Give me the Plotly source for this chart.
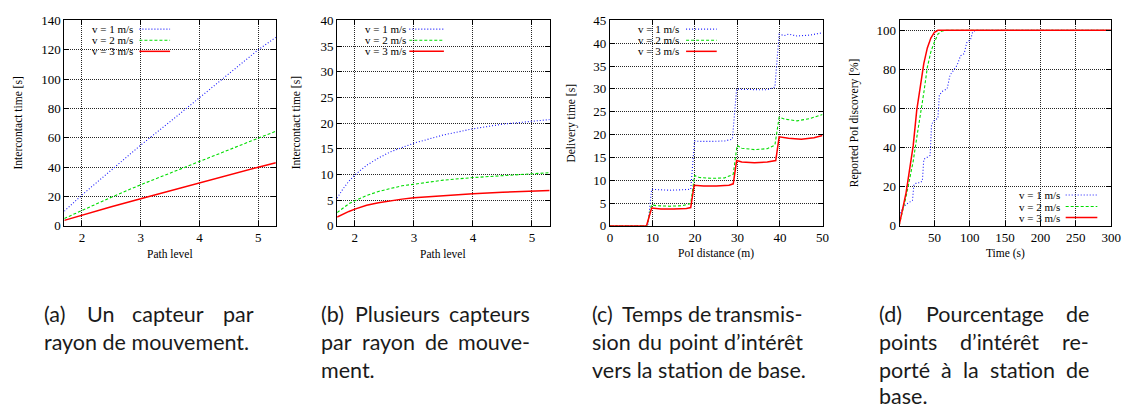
import plotly.graph_objects as go

W, H = 1135, 416

# ---------------- data ----------------
# (a) one sensor per movement radius
a_x = [1.7, 2.0, 2.5, 3.0, 3.5, 4.0, 4.5, 5.0, 5.3]
a_v1 = [10.0, 21.0, 38.0, 55.0, 71.0, 87.5, 104.0, 120.0, 128.5]
a_v2 = [5.0, 10.5, 19.5, 28.0, 36.0, 44.0, 52.0, 60.0, 64.5]
a_v3 = [3.7, 7.3, 13.0, 18.5, 24.0, 29.3, 34.7, 40.0, 43.0]

# (b) several sensors per movement radius
b_x = [1.7, 1.8, 1.9, 2.0, 2.2, 2.4, 2.6, 2.8, 3.0, 3.5, 4.0, 4.5, 5.0, 5.3]
b_v1 = [5.4, 7.2, 8.7, 9.9, 11.8, 13.2, 14.4, 15.3, 16.1, 17.7, 18.9, 19.8, 20.4, 20.7]
b_v2 = [2.6, 3.5, 4.3, 4.9, 5.9, 6.7, 7.3, 7.8, 8.1, 8.9, 9.4, 9.8, 10.2, 10.35]
b_v3 = [1.7, 2.3, 2.8, 3.25, 4.0, 4.5, 4.9, 5.2, 5.45, 5.9, 6.25, 6.55, 6.75, 6.9]

# (c) delivery time vs PoI distance
c_x_v1 = [0, 8.9, 9.8, 11, 14, 17, 19, 19.9, 21, 24, 27, 28.8, 29.8, 31, 34, 37, 38.8, 39.8, 41, 42, 44, 47, 50]
c_v1 = [0, 0, 8.0, 7.9, 7.8, 7.9, 8.0, 18.6, 18.5, 18.5, 18.6, 19.0, 30.0, 29.9, 29.8, 29.8, 30.4, 42.0, 41.7, 42.0, 41.6, 41.8, 42.3]
c_x_v2 = [0, 8.7, 9.8, 11, 14, 17, 19, 19.9, 21, 24, 27, 29, 29.9, 31, 34, 37, 38.8, 39.8, 41, 44, 47, 50]
c_v2 = [0, 0, 4.6, 4.4, 4.3, 4.4, 4.9, 11.0, 10.6, 10.4, 10.5, 11.3, 17.6, 17.0, 16.7, 16.9, 17.7, 23.8, 23.4, 23.0, 23.5, 24.4]
c_x_v3 = [0, 8.6, 9.8, 12, 15, 18, 19, 19.8, 22, 25, 28, 29, 29.8, 31, 34, 37, 39, 39.8, 42, 45, 48, 50]
c_v3 = [0, 0, 3.9, 3.7, 3.7, 3.8, 4.0, 8.9, 8.7, 8.7, 8.9, 9.2, 14.3, 14.0, 13.8, 14.0, 14.3, 19.5, 19.2, 19.0, 19.3, 19.8]

# (d) reported PoI discovery vs time
d_x_v1 = [0, 5, 10, 15, 19, 21, 25, 30, 33, 35, 40, 44, 46, 50, 55, 57, 62, 68, 72, 78, 82, 87, 92, 96, 101, 104, 108, 300]
d_v1 = [5, 9, 11, 12, 13, 21, 22, 22, 23, 34, 35, 36, 52, 54, 55, 67, 69, 70, 77, 80, 82, 87, 88, 94, 95, 99, 100, 100]
d_x_v2 = [0, 5, 10, 15, 20, 25, 30, 35, 40, 45, 50, 55, 60, 65, 300]
d_v2 = [0, 7, 15, 24, 33, 45, 56, 68, 81, 89, 94, 98, 99.5, 100, 100]
d_x_v3 = [0, 5, 10, 15, 20, 25, 30, 35, 40, 45, 50, 55, 300]
d_v3 = [0, 8, 17, 29, 41, 59, 72, 83, 91, 96, 99, 100, 100]

series_names = ["v = 1 m/s", "v = 2 m/s", "v = 3 m/s"]

a_yticks = [0, 20, 40, 60, 80, 100, 120, 140]
b_yticks = [0, 5, 10, 15, 20, 25, 30, 35, 40]
c_yticks = [0, 5, 10, 15, 20, 25, 30, 35, 40, 45]
d_yticks = [0, 20, 40, 60, 80, 100]
ab_xticks = [2, 3, 4, 5]
c_xticks = [0, 10, 20, 30, 40, 50]
d_xticks = [50, 100, 150, 200, 250, 300]

x_titles = ["Path level", "Path level", "PoI distance (m)", "Time (s)"]
y_titles = ["Intercontact time [s]", "Intercontact time [s]", "Delivery time [s]", "Reported PoI discovery [%]"]

# caption lines; True = justified line, False = last (left aligned) line
captions = [
    [("(a) Un capteur par", True), ("rayon de mouvement.", False)],
    [("(b) Plusieurs capteurs", True), ("par rayon de mouve-", True), ("ment.", False)],
    [("(c) Temps de transmis-", True), ("sion du point d\u2019int\u00e9r\u00eat", True),
     ("vers la station de base.", False)],
    [("(d) Pourcentage de", True), ("points d\u2019int\u00e9r\u00eat re-", True),
     ("port\u00e9 \u00e0 la station de", True), ("base.", False)],
]

# ---------------- layout helpers ----------------
def px(x):
    return x / W

def py(y):
    return 1 - y / H

COLORS = ["#1a1aff", "#00dd00", "#ff0000"]
DASHES = ["1px,2px", "3px,2px", "solid"]
WIDTHS = [1.1, 1.1, 1.5]
SERIF = "Liberation Serif"

plots = [
    dict(dom=(62, 276), xr=[1.7, 5.3], yr=[0, 140], xt=ab_xticks, yt=a_yticks,
         data=[(a_x, a_v1), (a_x, a_v2), (a_x, a_v3)]),
    dict(dom=(338, 553), xr=[1.7, 5.3], yr=[0, 40], xt=ab_xticks, yt=b_yticks,
         data=[(b_x, b_v1), (b_x, b_v2), (b_x, b_v3)]),
    dict(dom=(614, 829), xr=[0, 50], yr=[0, 45], xt=c_xticks, yt=c_yticks,
         data=[(c_x_v1, c_v1), (c_x_v2, c_v2), (c_x_v3, c_v3)]),
    dict(dom=(907, 1121), xr=[0.8, 300], yr=[0, 105], xt=d_xticks, yt=d_yticks,
         data=[(d_x_v1, d_v1), (d_x_v2, d_v2), (d_x_v3, d_v3)]),
]
TOP, BOT = 14, 227
ytitle_x = [15.5, 296.5, 575, 861]
# legend layout: (text right edge, sample x0, sample x1, row ys, box)
legends = [
    (132, 138, 169, [23, 34.5, 46], (64, 14.5, 174, 51)),
    (408, 411, 446, [23, 34.5, 46], (340, 14.5, 450, 51)),
    (684, 691, 722, [23, 34.5, 46], (616, 14.5, 726, 51)),
    (1069, 1075, 1107, [195, 207, 218.5], (1002, 189, 1119.5, 226)),
]

fig = go.Figure()
annotations = []
shapes = []

for i, p in enumerate(plots):
    n = "" if i == 0 else str(i + 1)
    xa, ya = "x" + n, "y" + n
    for k, (xs, ys) in enumerate(p["data"]):
        fig.add_trace(go.Scatter(
            x=xs, y=ys, mode="lines", xaxis=xa, yaxis=ya, name=series_names[k],
            line=dict(color=COLORS[k], width=WIDTHS[k], dash=DASHES[k]),
            showlegend=False, hoverinfo="skip"))
    common = dict(showline=True, linecolor="black", linewidth=1, mirror="ticks",
                  ticks="inside", ticklen=5, tickcolor="black", tickwidth=1,
                  showgrid=True, gridcolor="#262626", gridwidth=1, griddash="1px,1px",
                  zeroline=False, tickfont=dict(family=SERIF, size=13, color="black"))
    fig.layout["xaxis" + n] = dict(common, domain=[px(p["dom"][0]), px(p["dom"][1])],
                                   range=p["xr"], tickvals=p["xt"], anchor=ya)
    fig.layout["yaxis" + n] = dict(common, domain=[py(BOT), py(TOP)],
                                   range=p["yr"], tickvals=p["yt"], anchor=xa)
    cx = (p["dom"][0] + p["dom"][1]) / 2
    annotations.append(dict(text=x_titles[i], x=px(cx), y=py(256), xref="paper", yref="paper",
                            showarrow=False, font=dict(family=SERIF, size=11.5, color="black"),
                            xanchor="center", yanchor="middle"))
    annotations.append(dict(text=y_titles[i], x=px(ytitle_x[i]), y=py((TOP + BOT) / 2),
                            xref="paper", yref="paper", textangle=-90, showarrow=False,
                            font=dict(family=SERIF, size=11.5, color="black"),
                            xanchor="center", yanchor="middle"))
    # legend (key) drawn gnuplot style: text then sample
    tr, s0, s1, rows, box = legends[i]
    shapes.append(dict(type="rect", xref="paper", yref="paper", layer="between",
                       x0=px(box[0]), y0=py(box[1]), x1=px(box[2]), y1=py(box[3]),
                       fillcolor="white", line=dict(width=0)))
    for k in range(3):
        annotations.append(dict(text=series_names[k], x=px(tr + 2), y=py(rows[k]), xref="paper",
                                yref="paper", showarrow=False, xanchor="right", yanchor="middle",
                                font=dict(family=SERIF, size=11, color="black")))
        shapes.append(dict(type="line", xref="paper", yref="paper", x0=px(s0), x1=px(s1),
                           y0=py(rows[k]), y1=py(rows[k]),
                           line=dict(color=COLORS[k], width=WIDTHS[k], dash=DASHES[k])))

# ---------------- captions (justified text) ----------------
CAP_SIZE = 21.5
CAP_FONT = dict(family="Lato", size=CAP_SIZE, color="#1a1a1a")
CW = {'a': .52, 'b': .56, 'c': .46, 'd': .56, 'e': .53, 'f': .32, 'g': .50, 'h': .56, 'i': .24,
      'j': .24, 'k': .50, 'l': .24, 'm': .84, 'n': .56, 'o': .56, 'p': .56, 'q': .56, 'r': .36,
      's': .42, 't': .34, 'u': .56, 'v': .50, 'w': .76, 'x': .50, 'y': .50, 'z': .46, '(': .30,
      ')': .30, '-': .36, '\u2019': .22, '.': .22, 'P': .58, 'U': .68, 'T': .56, '\u00e9': .53,
      '\u00ea': .53, '\u00e0': .52}
PAD = 2.5  # annotation inner padding

def wwidth(w):
    return sum(CW.get(ch, .5) for ch in w) * CAP_SIZE

cap_lr = [(42, 253), (321.7, 532.7), (596.7, 809), (886.7, 1098)]
cap_rows = [318, 348, 377, 404]
for ci, cap in enumerate(captions):
    L, R = cap_lr[ci]
    for li, (line, just) in enumerate(cap):
        y = py(cap_rows[li])
        if not just:
            annotations.append(dict(text=line, x=px(L - PAD), y=y, xref="paper", yref="paper",
                                    showarrow=False, xanchor="left", yanchor="middle", font=CAP_FONT))
            continue
        words = line.split(" ")
        widths = [wwidth(w) for w in words]
        gap = (R - L - sum(widths)) / (len(words) - 1)
        xpos = L
        for wi, w in enumerate(words):
            if wi == 0:
                annotations.append(dict(text=w, x=px(L - PAD), y=y, xref="paper", yref="paper",
                                        showarrow=False, xanchor="left", yanchor="middle", font=CAP_FONT))
            elif wi == len(words) - 1:
                annotations.append(dict(text=w, x=px(R + PAD), y=y, xref="paper", yref="paper",
                                        showarrow=False, xanchor="right", yanchor="middle", font=CAP_FONT))
            else:
                annotations.append(dict(text=w, x=px(xpos + widths[wi] / 2), y=y, xref="paper",
                                        yref="paper", showarrow=False, xanchor="center",
                                        yanchor="middle", font=CAP_FONT))
            xpos += widths[wi] + gap

fig.update_layout(width=W, height=H, margin=dict(l=0, r=0, t=0, b=0),
                  paper_bgcolor="white", plot_bgcolor="white", showlegend=False,
                  annotations=annotations, shapes=shapes)
fig.write_html("out.html", config={"displayModeBar": False, "staticPlot": True},
               post_script="document.body.style.margin='0';document.body.style.overflow='hidden';")
